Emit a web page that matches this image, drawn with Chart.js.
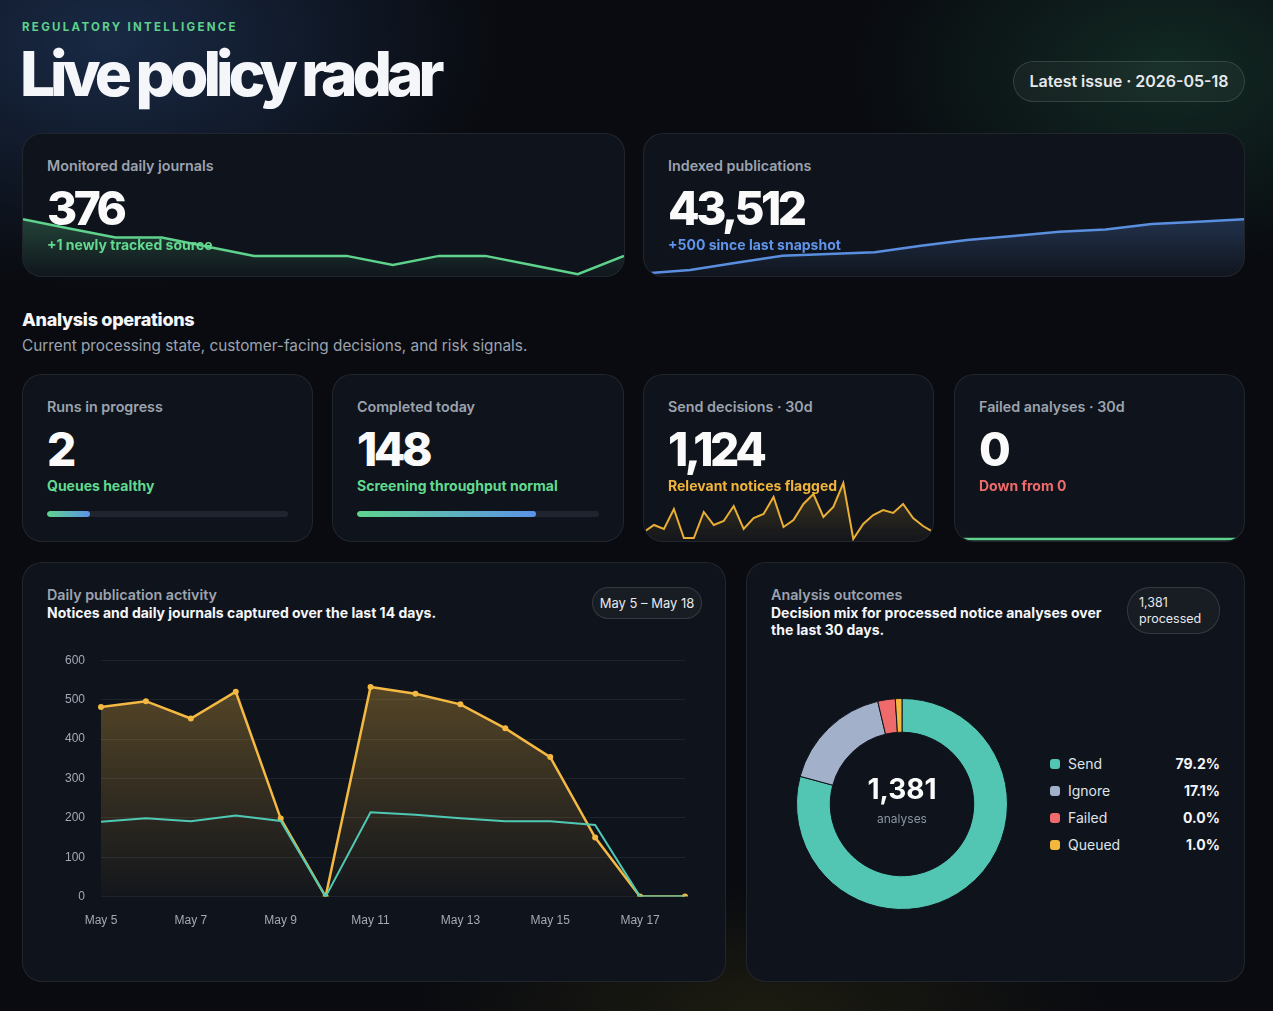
<!DOCTYPE html>
<html lang="en">
<head>
<meta charset="UTF-8" />
<meta name="viewport" content="width=device-width, initial-scale=1.0" />
<title>Live policy radar</title>
<script src="https://cdn.jsdelivr.net/npm/chart.js"></script>
<style>
  * { box-sizing: border-box; margin: 0; padding: 0; }
  html, body { width: 1273px; height: 1011px; overflow: hidden; }
  body {
    position: relative;
    font-family: Inter, "Noto Sans", sans-serif;
    color: #f3f4f6;
    background:
      radial-gradient(520px 330px at 110px 40px, rgba(38, 66, 112, 0.55), transparent 75%),
      radial-gradient(420px 260px at 1170px 70px, rgba(28, 78, 58, 0.45), transparent 75%),
      radial-gradient(460px 160px at 760px 1010px, rgba(80, 70, 18, 0.28), transparent 75%),
      #090b10;
  }
  .eyebrow { position: absolute; left: 22px; top: 19px; font-size: 11.5px; line-height: 16px; font-weight: 700; letter-spacing: 2.3px; color: #5ed08c; }
  h1 { position: absolute; left: 20px; top: 36px; font-size: 62px; line-height: 76px; font-weight: 800; letter-spacing: -5px; color: #f5f6fa; }
  .pill { position: absolute; border: 1px solid rgba(255,255,255,0.13); background: rgba(255,255,255,0.04); color: #e6e8ec; }
  .issue { left: 1013px; top: 61px; width: 232px; height: 41px; border-radius: 21px; font-size: 16px; font-weight: 600; line-height: 39px; text-align: center; }
  .card { position: absolute; background: #0f131b; border: 1px solid rgba(255,255,255,0.08); border-radius: 20px; overflow: hidden; padding: 23px 24px; }
  .card .label, .card .big, .card .sub, .card .bar { position: relative; z-index: 1; }
  .label { font-size: 14.3px; line-height: 18px; font-weight: 600; color: #9ca3af; }
  .big { margin-top: 10px; font-size: 46px; line-height: 46px; font-weight: 800; letter-spacing: -3.5px; color: #fafafa; }
  .sub { margin-top: 5px; font-size: 14px; line-height: 18px; font-weight: 700; }
  .green { color: #62d98f; } .blue { color: #5e95ea; } .yellow { color: #f0b43c; } .red { color: #ef6b6b; }
  .bar { margin-top: 16px; height: 6px; border-radius: 3px; background: #1f242e; overflow: hidden; }
  .bar span { display: block; height: 100%; border-radius: 3px; background: linear-gradient(90deg, #5fd38e, #5b93e8); }
  .spark { position: absolute; left: 0; right: 0; bottom: 0; z-index: 0; }
  .section-title { position: absolute; left: 22px; top: 309px; font-size: 18px; line-height: 22px; font-weight: 800; letter-spacing: -0.3px; color: #f5f6fa; }
  .section-sub { position: absolute; left: 22px; top: 336px; font-size: 15.3px; line-height: 20px; color: #9ca3af; }
  .panel-sub { font-size: 14px; line-height: 17px; font-weight: 700; color: #f5f6fa; }
  .range { left: auto; right: 23px; top: 24px; width: 110px; height: 32px; border-radius: 16px; font-size: 13px; line-height: 30px; text-align: center; }
  .processed { left: auto; right: 24px; top: 24px; width: 93px; height: 47px; border-radius: 23px; font-size: 12.5px; line-height: 16px; padding: 7px 0 0 11px; }
  .center { position: absolute; left: 49px; top: 135px; width: 212px; height: 212px; display: flex; flex-direction: column; align-items: center; justify-content: center; pointer-events: none; }
  .center b { font-size: 28px; line-height: 32px; font-weight: 700; color: #fafafa; margin-top: -8px; }
  .center small { font-size: 12px; line-height: 16px; color: #8b93a1; margin-top: 6px; }
  .legend { position: absolute; left: 303px; top: 187px; width: 170px; }
  .legend div { display: flex; align-items: center; height: 27px; font-size: 14px; color: #dfe3ea; }
  .legend i { width: 10px; height: 10px; border-radius: 3px; margin-right: 8px; }
  .legend em { margin-left: auto; font-style: normal; font-weight: 700; color: #f5f6fa; }
</style>
</head>
<body>
  <div class="eyebrow">REGULATORY INTELLIGENCE</div>
  <h1>Live policy radar</h1>
  <div class="pill issue">Latest issue · 2026-05-18</div>

  <div class="card" style="left:22px;top:133px;width:603px;height:144px">
    <div class="label">Monitored daily journals</div>
    <div class="big">376</div>
    <div class="sub green">+1 newly tracked source</div>
    <div class="spark" style="height:64px"><canvas id="journalsSpark"></canvas></div>
  </div>
  <div class="card" style="left:643px;top:133px;width:602px;height:144px">
    <div class="label">Indexed publications</div>
    <div class="big">43,512</div>
    <div class="sub blue">+500 since last snapshot</div>
    <div class="spark" style="height:64px"><canvas id="pubsSpark"></canvas></div>
  </div>

  <div class="section-title">Analysis operations</div>
  <div class="section-sub">Current processing state, customer-facing decisions, and risk signals.</div>

  <div class="card" style="left:22px;top:374px;width:291px;height:168px">
    <div class="label">Runs in progress</div>
    <div class="big">2</div>
    <div class="sub green">Queues healthy</div>
    <div class="bar"><span id="runsBar"></span></div>
  </div>
  <div class="card" style="left:332px;top:374px;width:292px;height:168px">
    <div class="label">Completed today</div>
    <div class="big">148</div>
    <div class="sub green">Screening throughput normal</div>
    <div class="bar"><span id="doneBar"></span></div>
  </div>
  <div class="card" style="left:643px;top:374px;width:291px;height:168px">
    <div class="label">Send decisions · 30d</div>
    <div class="big">1,124</div>
    <div class="sub yellow">Relevant notices flagged</div>
    <div class="spark" style="height:70px"><canvas id="sendSpark"></canvas></div>
  </div>
  <div class="card" style="left:954px;top:374px;width:291px;height:168px">
    <div class="label">Failed analyses · 30d</div>
    <div class="big">0</div>
    <div class="sub red">Down from 0</div>
    <div class="spark" style="height:70px"><canvas id="failSpark"></canvas></div>
  </div>

  <div class="card" style="left:22px;top:562px;width:704px;height:420px">
    <div class="label">Daily publication activity</div>
    <div class="panel-sub">Notices and daily journals captured over the last 14 days.</div>
    <div class="pill range">May 5 – May 18</div>
    <div style="position:absolute;left:24px;right:23px;top:74px;height:313px"><canvas id="activityChart"></canvas></div>
  </div>

  <div class="card" style="left:746px;top:562px;width:499px;height:420px">
    <div class="label">Analysis outcomes</div>
    <div class="panel-sub">Decision mix for processed notice analyses over<br>the last 30 days.</div>
    <div class="pill processed">1,381<br>processed</div>
    <div style="position:absolute;left:49px;top:135px;width:212px;height:212px"><canvas id="outcomeChart"></canvas></div>
    <div class="center"><b>1,381</b><small>analyses</small></div>
    <div class="legend" id="outcomeLegend"></div>
  </div>

<script>
  // 14 day window
  const dayLabels = ["May 5", "May 6", "May 7", "May 8", "May 9", "May 10", "May 11", "May 12", "May 13", "May 14", "May 15", "May 16", "May 17", "May 18"];
  const noticesDaily = [481, 496, 452, 520, 198, 0, 532, 515, 488, 427, 354, 150, 0, 0];
  const journalsDaily = [190, 199, 191, 206, 192, 0, 214, 208, 199, 191, 191, 182, 0, 0];

  // sparklines
  const journalsTracked = [380, 379, 378, 378, 377, 376, 376, 376, 375, 376, 376, 375, 374, 376];
  const publicationsIndexed = [40000, 40220, 40690, 41150, 41260, 41370, 41800, 42170, 42430, 42710, 42860, 43210, 43360, 43512];
  const monthLabels = ["Apr 19", "Apr 20", "Apr 21", "Apr 22", "Apr 23", "Apr 24", "Apr 25", "Apr 26", "Apr 27", "Apr 28",
    "Apr 29", "Apr 30", "May 1", "May 2", "May 3", "May 4", "May 5", "May 6", "May 7", "May 8",
    "May 9", "May 10", "May 11", "May 12", "May 13", "May 14", "May 15", "May 16", "May 17", "May 18"];
  const sendDaily = [23, 30, 26, 46, 17, 17, 43, 30, 34, 49, 26, 37, 41, 58, 28, 35, 51, 61, 38, 48, 72, 16, 31, 40, 45, 42, 51, 37, 29, 23];
  const failedDaily = [0, 0, 0, 0, 0, 0, 0, 0, 0, 0, 0, 0, 0, 0, 0, 0, 0, 0, 0, 0, 0, 0, 0, 0, 0, 0, 0, 0, 0, 0];

  // progress
  const runsShare = 0.18;
  const completedShare = 0.74;

  // outcomes
  const outcomeLabels = ["Send", "Ignore", "Failed", "Queued"];
  const outcomeCounts = [1094, 236, 37, 14];
  const outcomeShare = ["79.2%", "17.1%", "0.0%", "1.0%"];
  const outcomeColors = ["#52c6b3", "#a3b0c9", "#ef6b6b", "#f4b73e"];

  Chart.defaults.font.family = '"Helvetica Neue", Helvetica, Arial, "Liberation Sans", sans-serif';
  Chart.defaults.animation = false;

  document.getElementById("runsBar").style.width = runsShare * 100 + "%";
  document.getElementById("doneBar").style.width = completedShare * 100 + "%";

  function fade(color, top, bottom) {
    return (c) => {
      const { ctx, chartArea } = c.chart;
      if (!chartArea) return "transparent";
      const g = ctx.createLinearGradient(0, chartArea.top, 0, chartArea.bottom);
      g.addColorStop(0, color + top + ")");
      g.addColorStop(1, color + bottom + ")");
      return g;
    };
  }

  function sparkline(id, labels, values, line, fillRgb, min, max, width) {
    new Chart(document.getElementById(id), {
      type: "line",
      data: {
        labels: labels,
        datasets: [{
          data: values,
          borderColor: line,
          borderWidth: width,
          pointRadius: 0,
          tension: 0,
          fill: fillRgb ? "start" : false,
          backgroundColor: fillRgb ? fade(fillRgb, 0.28, 0.02) : "transparent",
        }],
      },
      options: {
        responsive: true,
        maintainAspectRatio: false,
        plugins: { legend: { display: false }, tooltip: { enabled: false } },
        scales: {
          x: { display: false },
          y: { display: false, min: min, max: max },
        },
      },
    });
  }

  sparkline("journalsSpark", dayLabels, journalsTracked, "#5fd38e", "rgba(95,211,142,", 373.8, 380.8, 2.5);
  sparkline("pubsSpark", dayLabels, publicationsIndexed, "#5a8fe0", "rgba(90,143,224,", 39830, 43990, 2.5);
  sparkline("sendSpark", monthLabels, sendDaily, "#e9ae35", "rgba(233,174,53,", 14, 84, 2);
  sparkline("failSpark", monthLabels, failedDaily, "#5fd38e", null, -1, 34, 2.5);

  new Chart(document.getElementById("activityChart"), {
    type: "line",
    data: {
      labels: dayLabels,
      datasets: [
        {
          label: "Notices",
          data: noticesDaily,
          borderColor: "#f4b942",
          borderWidth: 2.5,
          pointRadius: 3,
          pointBackgroundColor: "#f4b942",
          pointBorderWidth: 0,
          tension: 0,
          fill: "origin",
          backgroundColor: fade("rgba(244,185,66,", 0.34, 0.02),
          order: 1,
        },
        {
          label: "Daily journals",
          data: journalsDaily,
          borderColor: "#4fc9b4",
          borderWidth: 2,
          pointRadius: 0,
          tension: 0,
          fill: false,
          order: 0,
        },
      ],
    },
    options: {
      responsive: true,
      maintainAspectRatio: false,
      layout: { padding: { top: 12, right: 16, bottom: 5, left: 0 } },
      plugins: { legend: { display: false }, tooltip: { enabled: false } },
      scales: {
        x: {
          grid: { display: false, drawTicks: false },
          border: { display: false },
          ticks: {
            color: "#a3a9b5",
            font: { size: 12 },
            padding: 17,
            autoSkip: false,
            maxRotation: 0,
            callback: function (v, i) { return i % 2 === 0 ? this.getLabelForValue(v) : ""; },
          },
        },
        y: {
          min: 0,
          max: 600,
          ticks: { stepSize: 100, color: "#a3a9b5", font: { size: 12 }, padding: 16 },
          grid: { color: "rgba(255,255,255,0.07)", drawTicks: false },
          border: { display: false },
          afterFit: (s) => { s.width = 54; },
        },
      },
    },
  });

  new Chart(document.getElementById("outcomeChart"), {
    type: "doughnut",
    data: {
      labels: outcomeLabels,
      datasets: [{ data: outcomeCounts, backgroundColor: outcomeColors, borderColor: "#0f131b", borderWidth: 1 }],
    },
    options: {
      responsive: true,
      maintainAspectRatio: false,
      cutout: "68%",
      plugins: { legend: { display: false }, tooltip: { enabled: false } },
    },
  });

  document.getElementById("outcomeLegend").innerHTML = outcomeLabels
    .map((l, i) => `<div><i style="background:${outcomeColors[i]}"></i>${l}<em>${outcomeShare[i]}</em></div>`)
    .join("");
</script>
</body>
</html>
